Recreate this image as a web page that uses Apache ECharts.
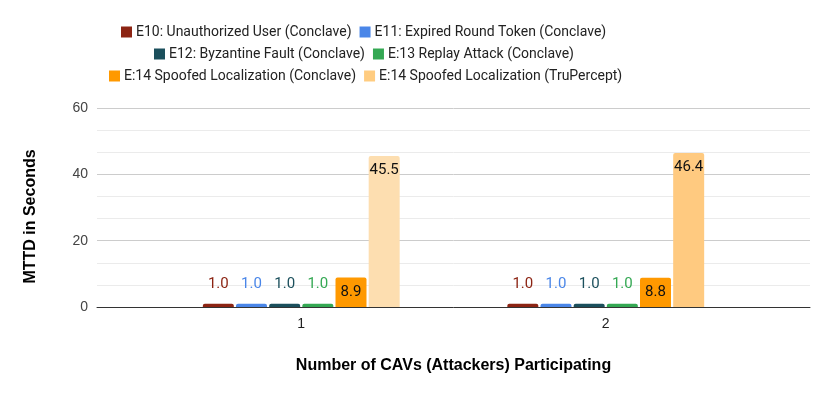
<!DOCTYPE html>
<html>
<head>
<meta charset="utf-8">
<script src="https://cdn.jsdelivr.net/npm/echarts@6/dist/echarts.min.js"></script>
<style>
  html, body { margin: 0; padding: 0; background: #fff; }
  #draw_area { width: 830px; height: 396px; }
</style>
</head>
<body>
<div id="draw_area"></div>
<script>
"use strict";

// 类别和各系列数据
var categories = ['1', '2'];
var seriesNames = [
    'E10: Unauthorized User (Conclave)',
    'E11: Expired Round Token (Conclave)',
    'E12: Byzantine Fault (Conclave)',
    'E:13 Replay Attack (Conclave)',
    'E:14 Spoofed Localization (Conclave)',
    'E:14 Spoofed Localization (TruPercept)'
];
var e10Values = [1.0, 1.0];
var e11Values = [1.0, 1.0];
var e12Values = [1.0, 1.0];
var e13Values = [1.0, 1.0];
var e14ConclaveValues = [8.9, 8.8];
var e14TruPerceptValues = [45.5, 46.4];
var yTicks = [0, 20, 40, 60];

var colors = ['#8c2413', '#4a86e8', '#1b4f5c', '#34a853', '#ff9900', '#ffcc80'];
var truPerceptBarColors = ['#fddeb0', '#ffca80'];

var allValues = [e10Values, e11Values, e12Values, e13Values, e14ConclaveValues, e14TruPerceptValues];

var chart_object = echarts.init(document.getElementById('draw_area'));

var series = allValues.map(function (vals, i) {
    var small = i < 4;
    return {
        name: seriesNames[i],
        type: 'bar',
        xAxisIndex: 1,
        yAxisIndex: 1,
        barWidth: 31,
        barGap: '7%',
        data: vals.map(function (v, j) {
            var item = { value: v };
            if (i === 5) item.itemStyle = { color: truPerceptBarColors[j] };
            return item;
        }),
        itemStyle: { color: colors[i], borderRadius: [2, 2, 0, 0] },
        label: {
            show: true,
            position: small ? 'top' : 'insideTop',
            distance: small ? 12 : 7,
            color: small ? colors[i] : '#111',
            fontFamily: 'Roboto',
            fontSize: 15,
            formatter: function (p) { return p.value.toFixed(1); }
        }
    };
});

// 图例分三行，各行起点按原图
function legendRow(names, top, left) {
    return {
        top: top,
        left: left,
        data: names,
        itemWidth: 11,
        itemHeight: 11,
        itemGap: 8,
        icon: 'rect',
        textStyle: { fontFamily: 'Roboto', fontSize: 14, color: '#222', padding: [0, 0, 0, -1] }
    };
}

var option = {
    animation: false,
    legend: [
        legendRow(seriesNames.slice(0, 2), 20, 116),
        legendRow(seriesNames.slice(2, 4), 42, 149),
        legendRow(seriesNames.slice(4, 6), 64, 104)
    ],
    grid: [
        { left: 97, right: 20, top: 108, bottom: 89 },
        { left: 149, right: 72, top: 108, bottom: 89 }
    ],
    xAxis: [
        {
            type: 'category',
            gridIndex: 0,
            data: [''],
            axisLine: { show: true, lineStyle: { color: '#333', width: 1 } },
            axisTick: { show: false },
            axisLabel: { show: false },
            name: 'Number of CAVs (Attackers) Participating',
            nameLocation: 'middle',
            nameGap: 51,
            nameTextStyle: { fontFamily: 'Liberation Sans', fontWeight: 'bold', fontSize: 16, color: '#000' }
        },
        {
            type: 'category',
            gridIndex: 1,
            data: categories,
            axisLine: { show: false },
            axisTick: { show: false },
            axisLabel: { margin: 10, fontFamily: 'Liberation Sans', fontSize: 14, color: '#222' }
        }
    ],
    yAxis: [
        {
            type: 'value',
            gridIndex: 0,
            min: yTicks[0],
            max: yTicks[yTicks.length - 1],
            interval: 20,
            axisLine: { show: false },
            axisTick: { show: false },
            axisLabel: { margin: 9, fontFamily: 'Liberation Sans', fontSize: 14, color: '#444' },
            splitLine: { lineStyle: { color: '#cccccc', width: 1 } },
            minorTick: { show: false, splitNumber: 3 },
            minorSplitLine: { show: true, lineStyle: { color: '#ebebeb', width: 1 } },
            name: 'MTTD in Seconds',
            nameLocation: 'middle',
            nameGap: 58,
            nameTextStyle: { fontFamily: 'Liberation Sans', fontWeight: 'bold', fontSize: 16, color: '#000', padding: [0, 0, 0, -18] }
        },
        {
            type: 'value',
            gridIndex: 1,
            min: yTicks[0],
            max: yTicks[yTicks.length - 1],
            interval: 20,
            show: false,
            splitLine: { show: false }
        }
    ],
    series: series
};

chart_object.setOption(option);
</script>
</body>
</html>
